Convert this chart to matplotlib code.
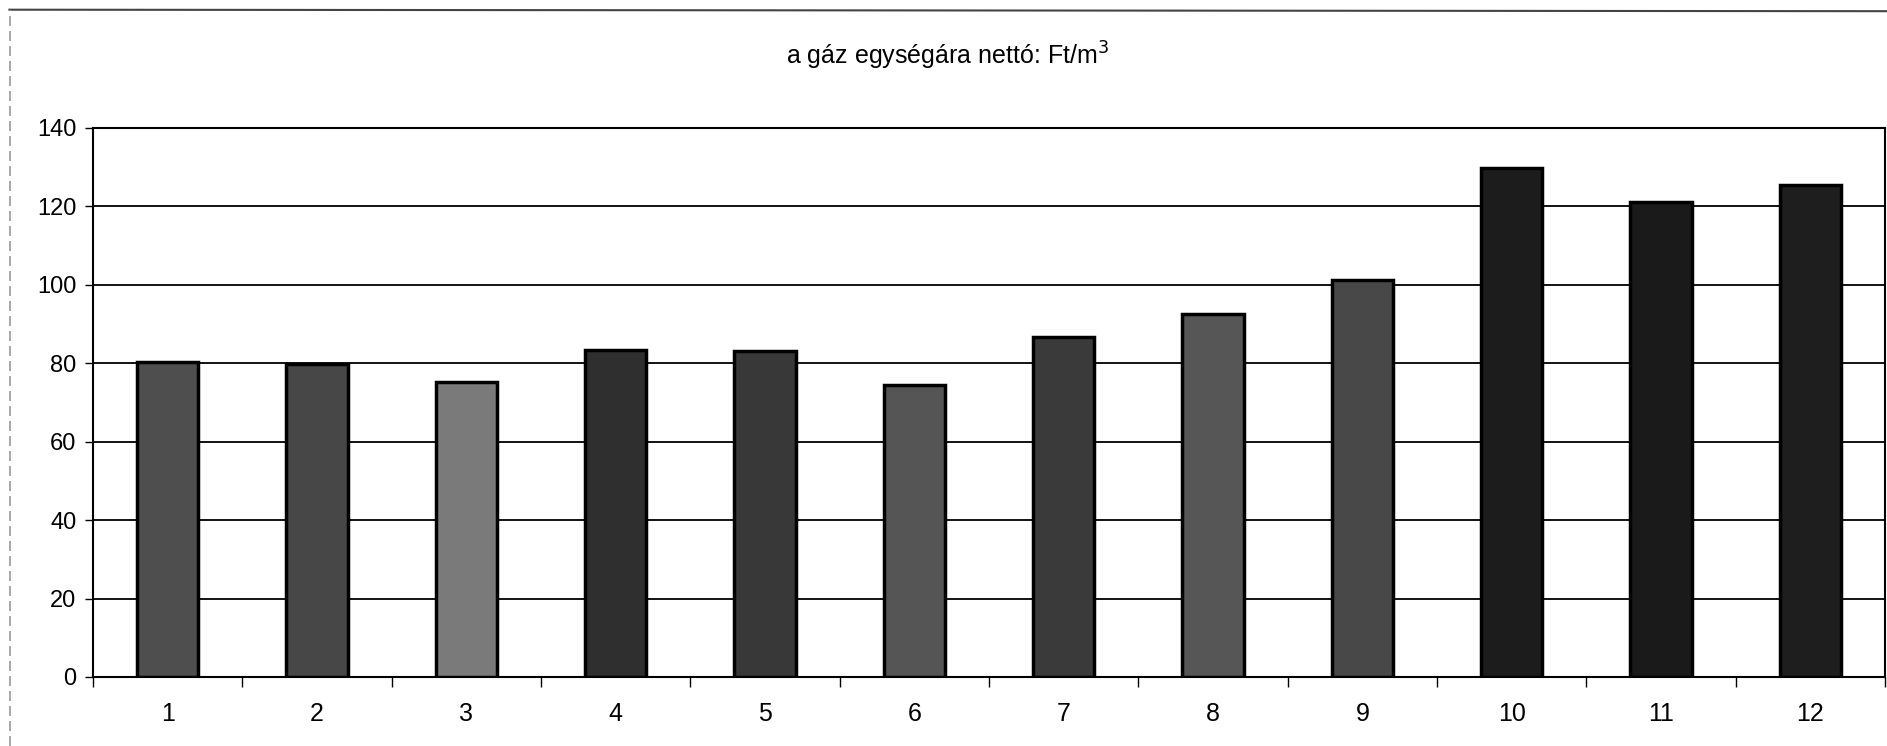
import matplotlib.pyplot as plt
import numpy as np
from matplotlib.lines import Line2D

# data
months = ["1", "2", "3", "4", "5", "6", "7", "8", "9", "10", "11", "12"]
price = [80.4, 79.8, 75.3, 83.4, 83.0, 74.5, 86.6, 92.6, 101.3, 129.7, 121.1, 125.4]
y_ticks = [0, 20, 40, 60, 80, 100, 120, 140]
bar_colors = ["#4e4e4e", "#474747", "#7a7a7a", "#2f2f2f", "#383838", "#555555",
              "#3a3a3a", "#565656", "#484848", "#1c1c1c", "#1a1a1a", "#1e1e1e"]

plt.rcParams["font.family"] = ["Liberation Sans", "DejaVu Sans"]

fig = plt.figure(figsize=(18.87, 7.46), dpi=100)
ax = fig.add_axes([0.0493, 0.0925, 0.9497, 0.736])

x = np.arange(len(months))
ax.bar(x, price, width=0.41, color=bar_colors, edgecolor="black", linewidth=2.5, zorder=3)

ax.set_xlim(-0.5, len(months) - 0.5)
ax.set_ylim(0, 140)
ax.set_yticks(y_ticks)
ax.yaxis.grid(True, color="black", linewidth=1.3, zorder=1)
ax.set_axisbelow(True)

# category labels in the middle, ticks on the boundaries
ax.set_xticks(x)
ax.set_xticklabels(months)
ax.tick_params(axis="x", length=0, pad=18, labelsize=18)
ax.set_xticks(np.arange(-0.5, len(months)), minor=True)
ax.tick_params(axis="x", which="minor", length=7, width=1, direction="out")
ax.tick_params(axis="y", length=6, width=1, labelsize=17, pad=6)

for side in ["left", "bottom", "right", "top"]:
    ax.spines[side].set_linewidth(1.5)
    ax.spines[side].set_color("black")

fig.text(0.502, 0.925, "a gáz egységára nettó: Ft/m$^3$", ha="center", va="center", fontsize=18)

# outer frame of the scanned chart
fig.add_artist(Line2D([0.005, 1.0], [0.987, 0.985], color="#444444", linewidth=1.5))
fig.add_artist(Line2D([0.0055, 0.0055], [0.0, 0.987], color="#999999", linewidth=1.2,
                      linestyle=(0, (6, 3))))

fig.savefig("out.png", dpi=100)
